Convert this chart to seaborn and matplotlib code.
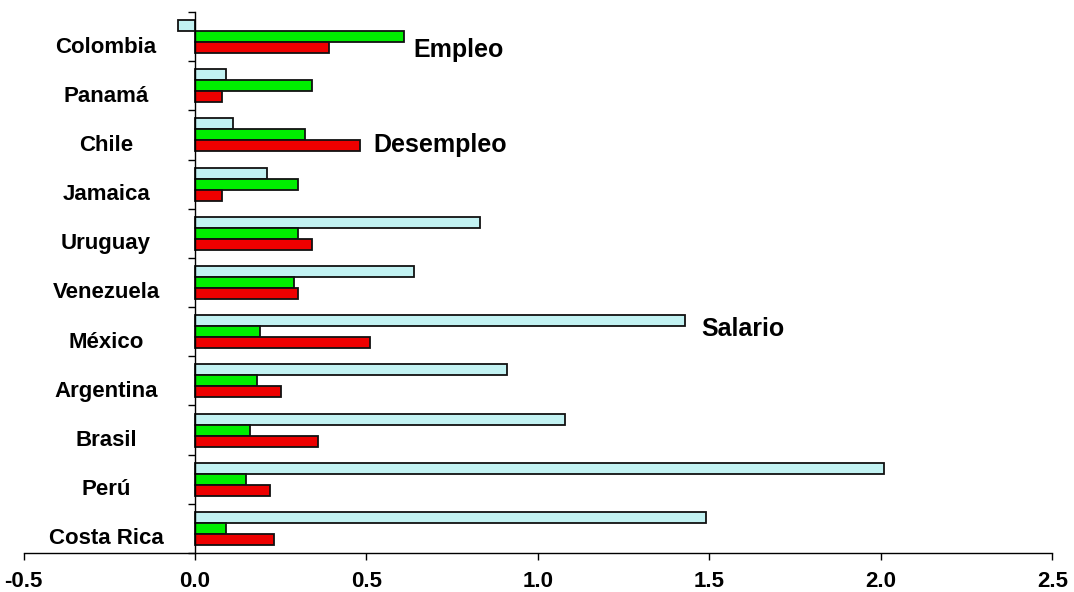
import matplotlib
matplotlib.use("Agg")
import matplotlib.pyplot as plt
from matplotlib.ticker import FixedLocator, FormatStrFormatter
import seaborn as sns
import pandas as pd

countries = ["Colombia", "Panamá", "Chile", "Jamaica", "Uruguay", "Venezuela",
             "México", "Argentina", "Brasil", "Perú", "Costa Rica"]
salario = [-0.05, 0.09, 0.11, 0.21, 0.83, 0.64, 1.43, 0.91, 1.08, 2.01, 1.49]
empleo = [0.61, 0.34, 0.32, 0.30, 0.30, 0.29, 0.19, 0.18, 0.16, 0.15, 0.09]
desempleo = [0.39, 0.08, 0.48, 0.08, 0.34, 0.30, 0.51, 0.25, 0.36, 0.22, 0.23]
series = ["Salario", "Empleo", "Desempleo"]
x_ticks = [-0.5, 0.0, 0.5, 1.0, 1.5, 2.0, 2.5]

df = pd.DataFrame({
    "pais": countries * 3,
    "serie": [s for s in series for _ in countries],
    "valor": salario + empleo + desempleo,
})

sns.set_theme(style="white")
plt.rcParams["font.family"] = ["Liberation Sans", "DejaVu Sans"]
plt.rcParams["font.weight"] = "bold"
plt.rcParams["axes.unicode_minus"] = False
plt.rcParams["text.color"] = "black"
plt.rcParams["xtick.color"] = "black"
plt.rcParams["ytick.color"] = "black"
plt.rcParams["axes.labelcolor"] = "black"

fig = plt.figure(figsize=(10.74, 5.92), dpi=100)
ax = fig.add_axes([0.0219, 0.0659, 0.958, 0.9139])

palette = {"Salario": "#c2f2f2", "Empleo": "#00ee00", "Desempleo": "#ee0000"}
sns.barplot(data=df, y="pais", x="valor", hue="serie", order=countries,
            hue_order=series, palette=palette, orient="h", width=0.67,
            edgecolor="#111111", linewidth=1.3, saturation=1, legend=False,
            ax=ax)

ax.set_xlim(-0.5, 2.5)
ax.set_ylim(len(countries) - 0.5, -0.5)
ax.set_xlabel("")
ax.set_ylabel("")

# Spines: vertical axis sits at zero, only bottom axis otherwise
for side in ("top", "right"):
    ax.spines[side].set_visible(False)
ax.spines["left"].set_position(("data", 0))
ax.spines["left"].set_color("black")
ax.spines["left"].set_linewidth(1.0)
ax.spines["bottom"].set_color("black")
ax.spines["bottom"].set_linewidth(1.0)

# x axis
ax.xaxis.set_major_locator(FixedLocator(x_ticks))
ax.xaxis.set_major_formatter(FormatStrFormatter("%.1f"))
ax.tick_params(axis="x", direction="out", length=5, width=1, color="black",
               labelcolor="black", labelsize=16, pad=8, bottom=True)
for lab in ax.get_xticklabels():
    lab.set_fontweight("bold")

# y axis: ticks on category boundaries, labels centred in the left margin
ax.set_yticks(range(len(countries)), labels=countries, ha="center", va="top",
              fontsize=16, fontweight="bold", color="black")
ax.tick_params(axis="y", which="major", length=0, pad=64)
ax.set_yticks([i - 0.5 for i in range(len(countries) + 1)], minor=True)
ax.tick_params(axis="y", which="minor", direction="out", length=5, width=1,
               color="black", left=True)
ax.grid(False)

# Series annotations
ax.text(0.636, 0.41, "Empleo", fontsize=18, fontweight="bold", va="baseline",
        color="black")
ax.text(0.52, 2.34, "Desempleo", fontsize=18, fontweight="bold", va="baseline",
        color="black")
ax.text(1.475, 6.08, "Salario", fontsize=18, fontweight="bold", va="baseline",
        color="black")

fig.savefig("out.png", dpi=100)
